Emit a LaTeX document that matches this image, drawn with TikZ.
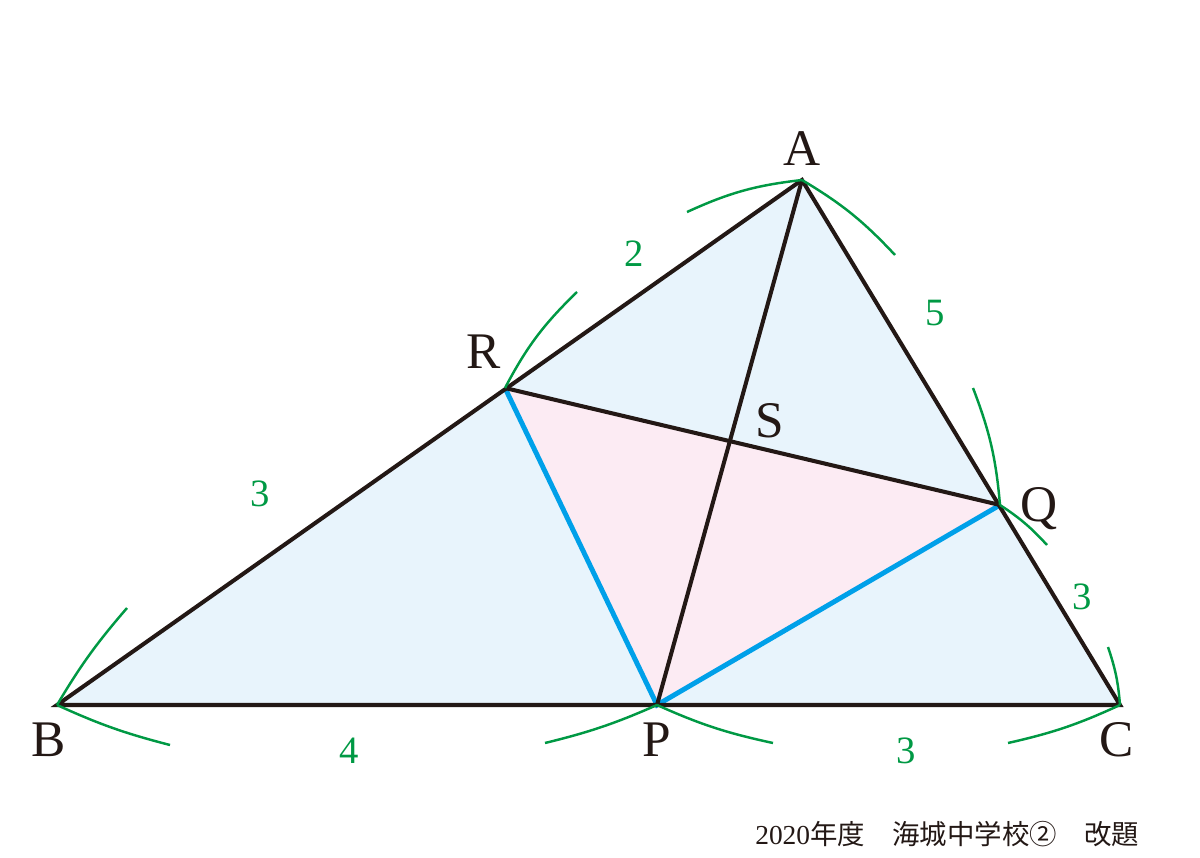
\documentclass[tikz,border=0pt]{standalone}
\usepackage{fontspec}
\setmainfont{Liberation Serif}
\newfontfamily\cjk{Noto Sans CJK JP}
\usetikzlibrary{positioning}
\definecolor{inkblack}{RGB}{35,24,21}
\definecolor{arcgreen}{RGB}{0,153,68}
\definecolor{sideblue}{RGB}{0,160,233}
\definecolor{skyfill}{RGB}{232,244,252}
\definecolor{pinkfill}{RGB}{252,235,243}

\begin{document}
\begin{tikzpicture}[x=0.01cm,y=0.01cm,
	vertexlabel/.style={inner sep=0pt, text depth=0pt, text=inkblack, font=\fontsize{14.6}{16}\selectfont},
	lengthlabel/.style={inner sep=0pt, text=arcgreen, font=\fontsize{11}{12}\selectfont},
	edge/.style={inkblack, line width=1.15pt},
	blueedge/.style={sideblue, line width=1.4pt},
	arcpen/.style={arcgreen, line width=0.7pt},]
	\useasboundingbox (0,0) rectangle (1200,857);
	\coordinate (A) at (802,677);
	\coordinate (B) at (57,152);
	\coordinate (C) at (1120,152);
	\coordinate (P) at (657,152);
	\coordinate (Q) at (1000,352);
	\coordinate (R) at (505,469);
	\coordinate (S) at (intersection of A--P and R--Q);

	\coordinate (ra) at (577,565);
	\coordinate (ar) at (687,645);
	\coordinate (aq) at (895,602);
	\coordinate (qa) at (973,469);
	\coordinate (qc) at (1047,312);
	\coordinate (cq) at (1108,210);
	\coordinate (br) at (127,249);
	\coordinate (bp) at (170,112);
	\coordinate (pb) at (545,114);
	\coordinate (pc) at (773,114);
	\coordinate (cp) at (1008,114);

	\fill[skyfill] (A) -- (B) -- (C) -- cycle;
	\fill[pinkfill] (P) -- (Q) -- (R) -- cycle;
	\draw[blueedge] (R) -- (P) -- (Q);
	\draw[edge] (A) -- (B) -- (C) -- cycle;
	\draw[edge] (A) -- (P);
	\draw[edge] (R) -- (Q);

	\draw[arcpen] (R) to[bend left=9] (ra);
	\draw[arcpen] (A) to[bend right=9] (ar);
	\draw[arcpen] (A) to[bend left=8] (aq);
	\draw[arcpen] (Q) to[bend right=8] (qa);
	\draw[arcpen] (Q) to[bend left=7] (qc);
	\draw[arcpen] (C) to[bend right=7] (cq);
	\draw[arcpen] (B) to[bend left=5] (br);
	\draw[arcpen] (B) to[bend right=5] (bp);
	\draw[arcpen] (P) to[bend left=5] (pb);
	\draw[arcpen] (P) to[bend right=6] (pc);
	\draw[arcpen] (C) to[bend left=6] (cp);

	\node[vertexlabel](labA)[above=0.14cm of A]{A};
	\node[vertexlabel](labB)[below=0.17cm of B, xshift=-0.08cm]{B};
	\node[vertexlabel](labC)[below=0.17cm of C, xshift=-0.03cm]{C};
	\node[vertexlabel](labP)[below=0.17cm of P]{P};
	\node[vertexlabel](labQ)[right=0.2cm of Q]{Q};
	\node[vertexlabel](labR)[above left=0.19cm and 0.04cm of R]{R};
	\node[vertexlabel](labS)[above right=0.03cm and 0.25cm of S]{S};

	\node[lengthlabel](lenRA) at (634,603){2};
	\node[lengthlabel](lenAQ) at (935,544){5};
	\node[lengthlabel](lenBR) at (260,363){3};
	\node[lengthlabel](lenQC) at (1082,260){3};
	\node[lengthlabel](lenBP) at (349,106){4};
	\node[lengthlabel](lenPC) at (906,106){3};

	\node[anchor=base east, inner sep=0pt, text=inkblack, font=\fontsize{7.8}{9}\selectfont](caption) at (1140,13){2020{\cjk 年度　海城中学校②　改題}};
\end{tikzpicture}
\end{document}
